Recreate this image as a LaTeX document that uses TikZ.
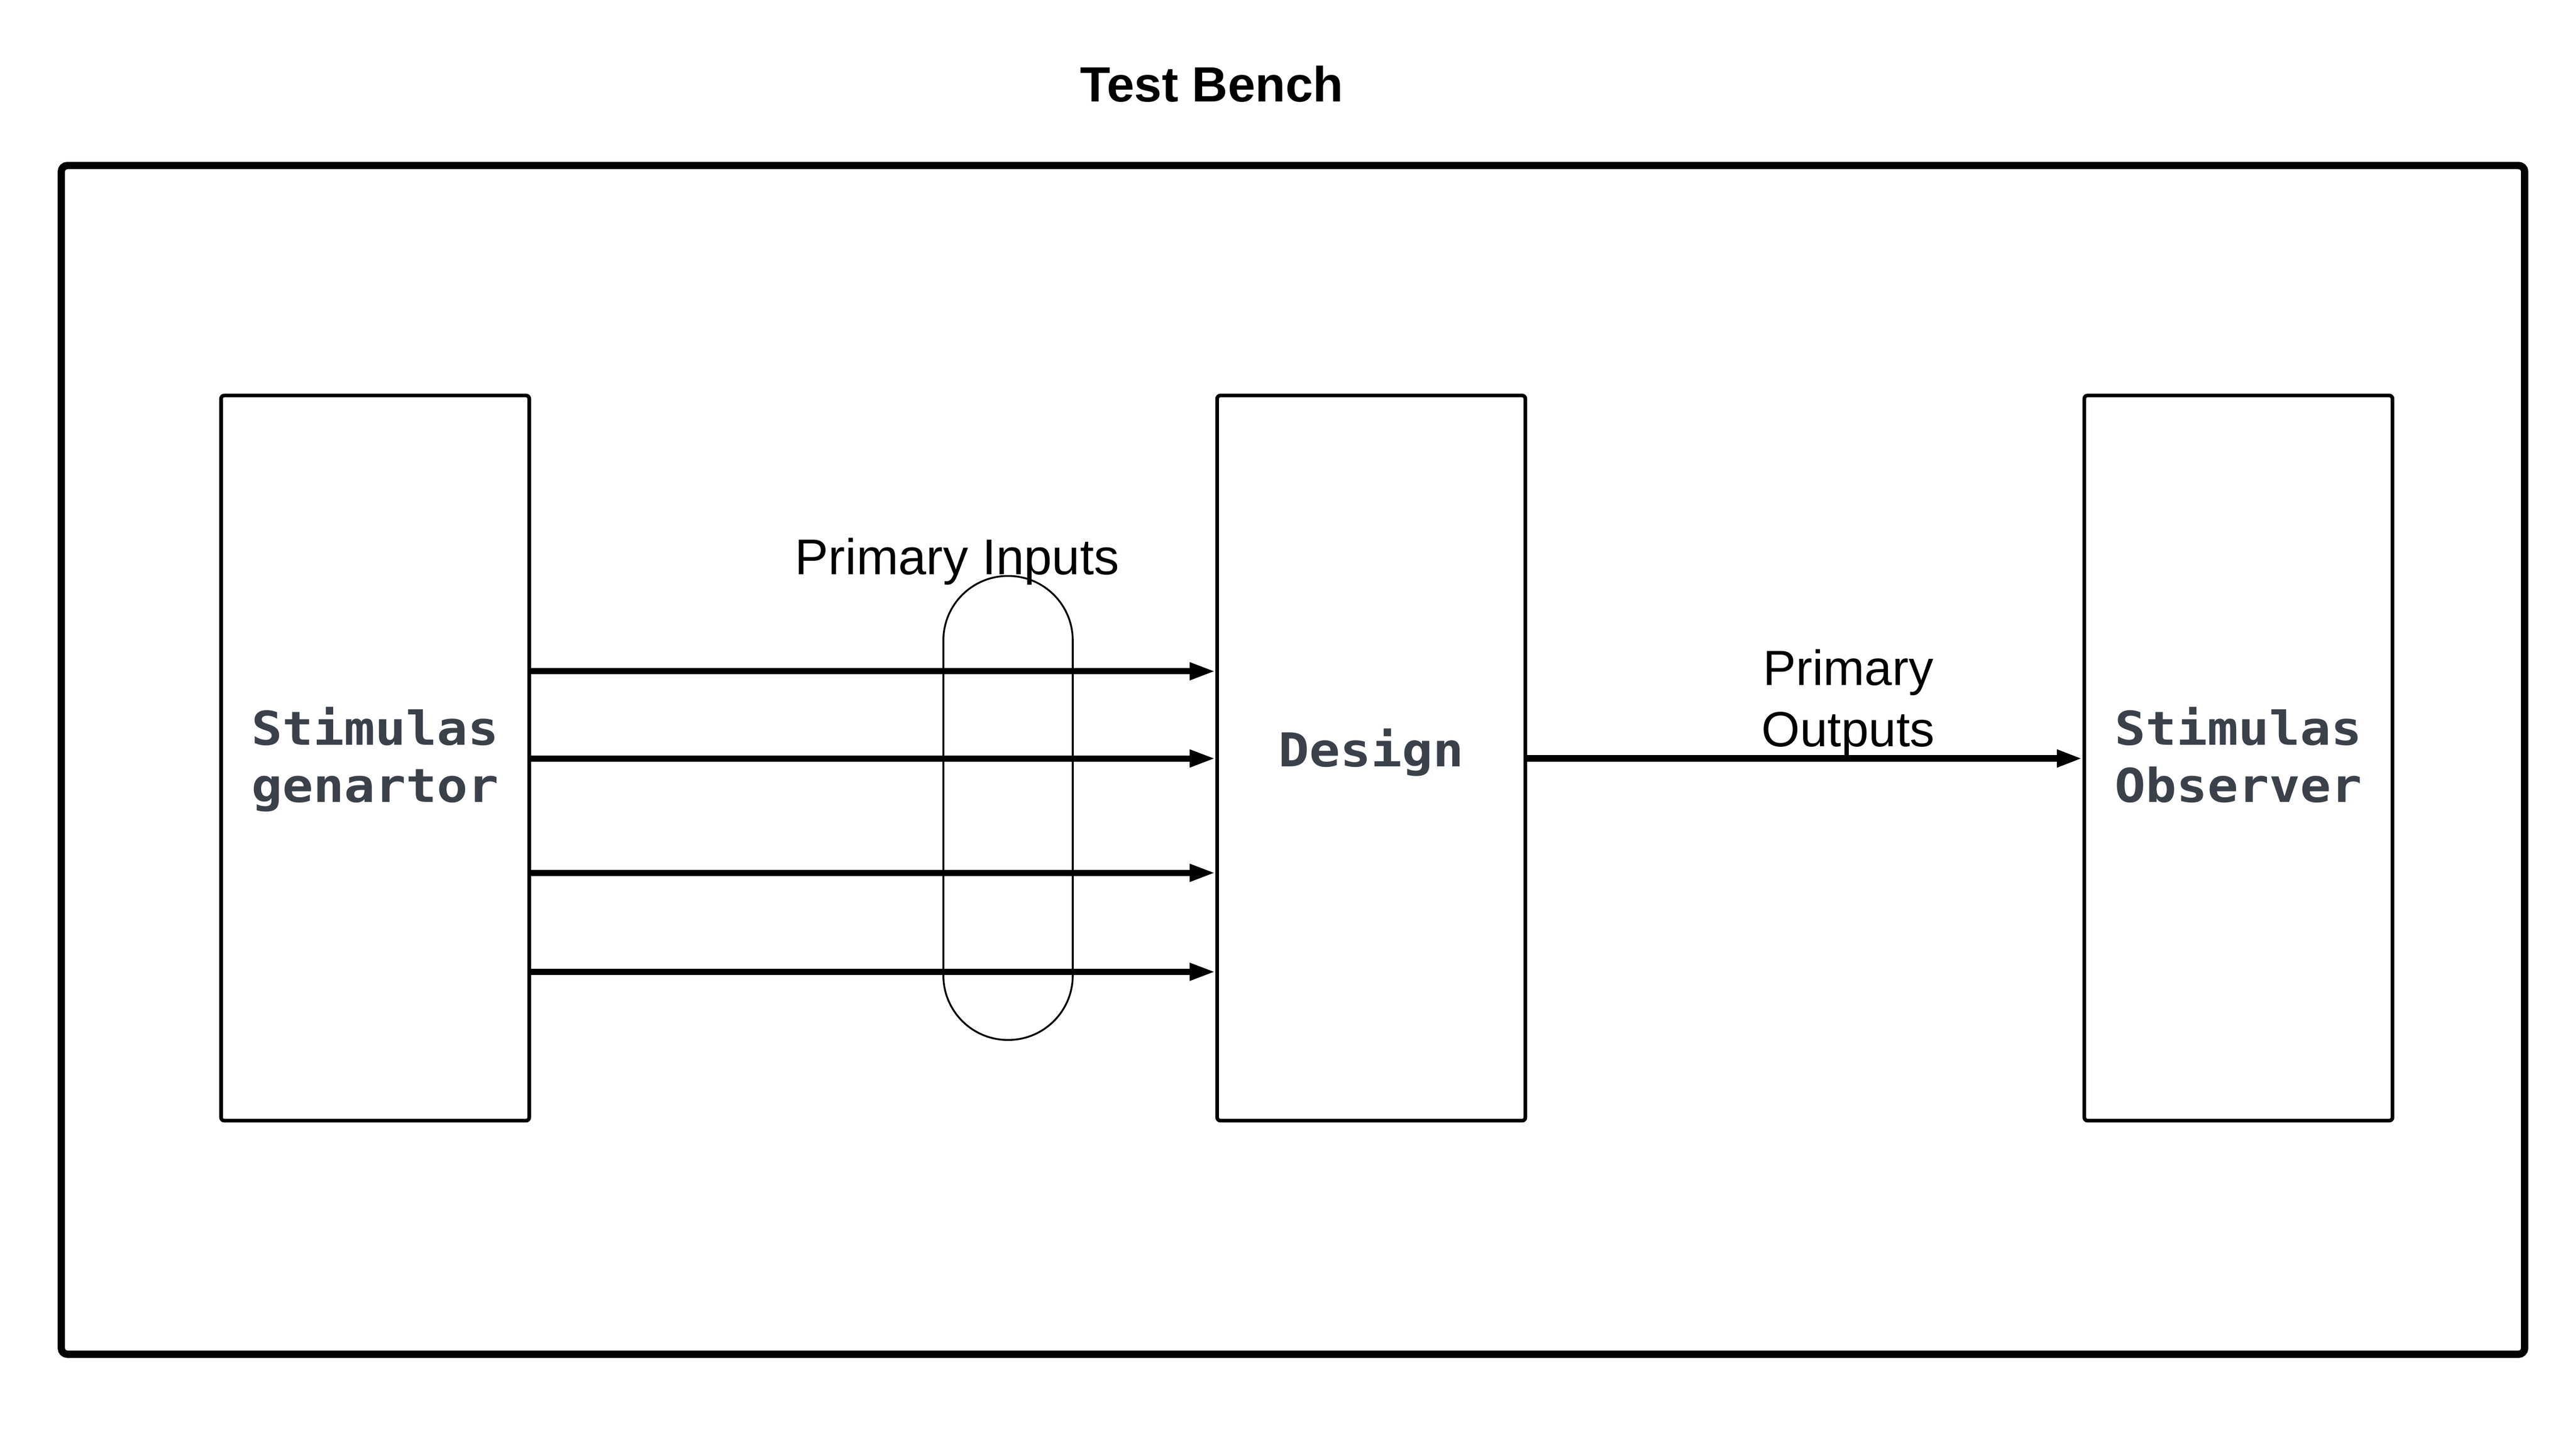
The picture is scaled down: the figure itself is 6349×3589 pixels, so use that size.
\documentclass[tikz,border=0pt]{standalone}
\usepackage{fontspec}
\setmainfont{Liberation Sans}
\newfontfamily\monob{DejaVu Sans Mono}[FakeStretch=1.1]
\usetikzlibrary{arrows.meta}
\definecolor{boxtext}{RGB}{58,65,74}
\begin{document}
\begin{tikzpicture}[x=0.1pt,y=-0.1pt,
  block/.style={draw,line width=0.9pt,rounded corners=0.8pt,minimum width=76pt,minimum height=178.8pt,inner sep=0pt},
  blocktext/.style={font=\monob\bfseries\fontsize{11.5}{14.1}\selectfont,text=boxtext,align=center,anchor=base,inner sep=0pt},
  sig/.style={line width=1.5pt,-{Triangle[length=6.3pt,width=4pt]}},
  lbl/.style={font=\fontsize{12.2}{15}\selectfont,align=center,anchor=base,inner sep=0pt}]
\useasboundingbox (0,0) rectangle (6349,3589);
% frame and title
\node[draw,line width=1.8pt,rounded corners=1.5pt,minimum width=607.4pt,minimum height=293.1pt,inner sep=0pt] (bench) at (3188,1873.5) {};
\node[lbl,font=\bfseries\fontsize{12.2}{15}\selectfont] (title) at (2988,251) {Test Bench};
% blocks
\node[block] (gen) at (925,1869) {};
\node[block] (design) at (3381,1869) {};
\node[block] (obs) at (5519,1869) {};
\node[blocktext] (gentext) at (925,1978) {Stimulas\\genartor};
\node[blocktext] (designtext) at (3381,1890) {Design};
\node[blocktext] (obstext) at (5519,1978) {Stimulas\\Observer};
% signal rows
\coordinate (y1) at (0,1655);
\coordinate (y2) at (0,1870);
\coordinate (y3) at (0,2152);
\coordinate (y4) at (0,2396);
\draw[sig] (gen.east |- y1) -- (design.west |- y1);
\draw[sig] (gen.east |- y2) -- (design.west |- y2);
\draw[sig] (gen.east |- y3) -- (design.west |- y3);
\draw[sig] (gen.east |- y4) -- (design.west |- y4);
\draw[sig,line width=1.6pt] (design.east |- y2) -- (obs.west |- y2);
% bus bundle
\node[draw,line width=0.45pt,rounded corners=15.9pt,minimum width=31.9pt,minimum height=114.4pt,inner sep=0pt] (bus) at (2485.5,1992) {};
% labels
\node[lbl,font=\fontsize{12.4}{15}\selectfont] (pin) at (2360,1417) {Primary Inputs};
\node[lbl] (pout) at (4557,1840) {Primary\\Outputs};
\end{tikzpicture}
\end{document}
